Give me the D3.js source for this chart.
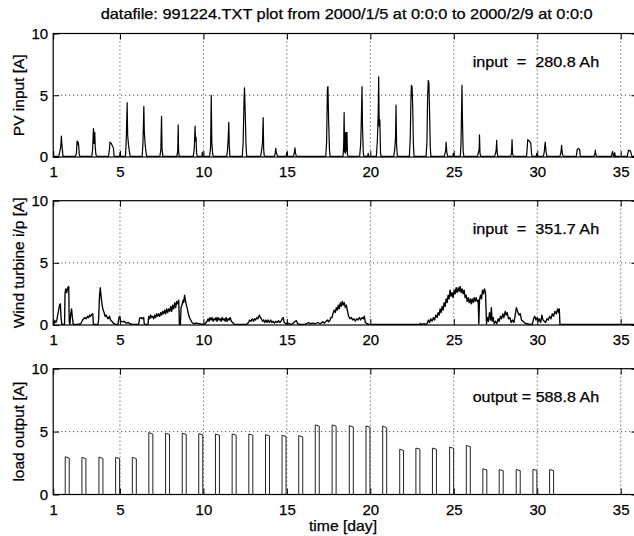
<!DOCTYPE html>
<html>
<head>
<meta charset="utf-8">
<script src="https://cdn.jsdelivr.net/npm/d3@7"></script>
<style>
  body { margin: 0; background: #fff; }
  svg { display: block; font-family: "Liberation Sans", Arial, Helvetica, sans-serif; }
  svg text { stroke: #000; stroke-width: 0.25px; }
  .note { white-space: pre; }
</style>
</head>
<body>
<div id="chart"></div>
<script>
"use strict";

// ticks shared by all three panels
var dayTicks = [1, 5, 10, 15, 20, 25, 30, 35];
var ampTicks = [0, 5, 10];

var titleText = "datafile: 991224.TXT plot from 2000/1/5 at 0:0:0 to 2000/2/9 at 0:0:0";
var xLabelText = "time [day]";
var panelLabels = ["PV input [A]", "Wind turbine i/p [A]", "load output [A]"];
var panelNotes = ["input  =  280.8 Ah", "input  =  351.7 Ah", "output = 588.8 Ah"];

// PV current [day, A]
var pvSeries = [
  [1.00,0.05],[1.33,0.05],[1.39,0.4],[1.45,0.8],[1.49,1.7],[1.52,1.0],[1.55,0.6],[1.59,0.05],
  [2.33,0.05],[2.39,0.3],[2.43,1.3],[2.47,1.0],[2.50,1.2],[2.53,0.9],[2.56,0.2],[2.61,0.05],
  [3.31,0.05],[3.36,0.6],[3.41,2.3],[3.45,1.1],[3.49,2.0],[3.52,0.8],[3.55,0.3],[3.59,0.05],
  [4.31,0.05],[4.36,0.5],[4.40,1.2],[4.48,1.1],[4.55,0.9],[4.61,0.7],[4.65,0.05],
  [4.98,0.05],[5.01,0.4],[5.04,0.05],
  [5.33,0.05],[5.38,1.5],[5.43,4.4],[5.46,1.8],[5.51,1.0],[5.56,0.5],[5.61,0.05],
  [6.33,0.05],[6.38,1.2],[6.43,4.1],[6.46,2.0],[6.51,1.0],[6.58,0.2],[6.61,0.05],
  [7.39,0.05],[7.45,0.6],[7.49,3.3],[7.52,0.7],[7.57,0.05],
  [8.41,0.05],[8.46,0.5],[8.49,2.6],[8.51,0.5],[8.55,0.05],
  [9.39,0.05],[9.45,0.6],[9.50,2.5],[9.53,1.3],[9.56,1.6],[9.59,0.3],[9.63,0.05],
  [9.91,0.05],[9.94,0.4],[9.97,0.05],
  [10.37,0.05],[10.43,0.8],[10.47,5.0],[10.50,1.2],[10.55,0.3],[10.59,0.05],
  [11.39,0.05],[11.44,0.5],[11.48,1.4],[11.52,2.8],[11.55,0.8],[11.59,0.05],
  [12.33,0.05],[12.38,1.2],[12.43,4.5],[12.46,5.6],[12.50,3.8],[12.55,1.0],[12.59,0.05],
  [13.43,0.05],[13.49,0.6],[13.54,1.2],[13.58,3.2],[13.61,0.6],[13.65,0.05],
  [14.25,0.05],[14.30,0.3],[14.33,0.7],[14.38,0.3],[14.45,0.05],
  [14.96,0.05],[14.99,0.35],[15.02,0.05],
  [15.39,0.05],[15.45,0.4],[15.48,0.75],[15.52,0.3],[15.57,0.05],
  [17.33,0.05],[17.38,1.2],[17.43,5.6],[17.46,5.7],[17.50,3.0],[17.55,0.6],[17.59,0.05],
  [18.36,0.05],[18.40,0.8],[18.43,3.6],[18.46,0.4],[18.48,2.0],[18.51,0.3],[18.54,2.0],[18.57,0.5],[18.60,2.0],[18.63,0.2],[18.67,0.05],
  [19.36,0.05],[19.42,1.0],[19.46,3.0],[19.50,5.7],[19.53,2.5],[19.58,0.3],[19.62,0.05],
  [19.84,0.05],[19.87,0.3],[19.90,0.05],
  [20.36,0.05],[20.42,1.3],[20.47,3.5],[20.50,6.5],[20.53,2.5],[20.57,3.0],[20.61,0.4],[20.64,0.05],
  [21.40,0.05],[21.46,0.6],[21.51,1.6],[21.54,4.2],[21.57,1.0],[21.62,0.05],
  [22.34,0.05],[22.39,1.5],[22.43,4.5],[22.46,5.8],[22.50,5.7],[22.54,4.0],[22.58,1.0],[22.62,0.05],
  [23.34,0.05],[23.39,1.2],[23.43,4.8],[23.47,6.2],[23.51,6.0],[23.55,3.5],[23.59,0.8],[23.63,0.05],
  [24.42,0.05],[24.48,0.3],[24.52,0.6],[24.54,1.2],[24.58,0.4],[24.64,0.05],
  [24.94,0.05],[24.97,0.3],[25.00,0.05],
  [25.39,0.05],[25.43,1.0],[25.47,4.0],[25.49,5.8],[25.52,3.0],[25.56,0.5],[25.60,0.05],
  [26.42,0.05],[26.48,0.4],[26.52,0.6],[26.54,1.8],[26.57,0.3],[26.62,0.05],
  [27.44,0.05],[27.50,0.3],[27.54,0.6],[27.57,1.35],[27.60,0.3],[27.64,0.05],
  [28.40,0.05],[28.46,0.3],[28.49,1.4],[28.52,0.3],[28.57,0.05],
  [29.36,0.05],[29.40,0.8],[29.43,1.4],[29.51,1.3],[29.61,1.15],[29.66,0.2],[29.70,0.05],
  [29.94,0.05],[29.97,0.3],[30.00,0.05],
  [30.36,0.05],[30.42,0.4],[30.46,1.0],[30.48,1.2],[30.52,0.5],[30.58,0.05],
  [31.36,0.05],[31.42,0.4],[31.46,0.95],[31.50,0.3],[31.56,0.05],
  [32.34,0.05],[32.39,0.6],[32.46,0.7],[32.54,0.6],[32.58,0.05],
  [33.40,0.05],[33.46,0.3],[33.48,0.55],[33.51,0.2],[33.56,0.05],
  [34.44,0.05],[34.48,0.3],[34.52,0.45],[34.56,0.1],[34.61,0.05],[34.64,0.35],[34.68,0.05],
  [35.39,0.05],[35.44,0.4],[35.48,0.55],[35.58,0.5],[35.64,0.2],[35.68,0.05],[36.00,0.05]
];

// wind turbine current [day, A]
var windSeries = [
  [1.00,0.3],[1.05,0.1],[1.10,0.35],[1.16,0.2],[1.22,0.4],[1.28,0.9],[1.34,1.3],[1.38,1.6],[1.43,1.7],[1.47,0.6],[1.52,0.05],
  [1.68,0.05],[1.71,2.6],[1.76,2.9],[1.81,2.6],[1.87,3.0],[1.93,3.1],[1.96,0.3],[2.00,0.05],[2.05,0.9],[2.10,1.3],[2.15,0.6],[2.20,0.05],
  [2.45,0.05],[2.65,0.1],[2.76,0.4],[2.83,0.5],[2.90,0.6],[2.97,0.5],[3.06,0.7],[3.12,0.6],[3.18,0.8],[3.24,0.7],[3.30,0.85],[3.37,0.9],[3.41,0.05],
  [3.68,0.05],[3.72,0.4],[3.77,2.2],[3.82,3.0],[3.87,2.3],[3.93,1.6],[3.99,1.2],[4.05,1.0],[4.11,0.7],[4.17,0.8],[4.24,0.6],[4.30,0.5],[4.37,0.7],[4.44,0.4],[4.51,0.3],[4.60,0.15],[4.72,0.05],
  [4.88,0.05],[4.94,0.6],[4.99,0.7],[5.05,0.3],[5.15,0.25],[5.25,0.3],[5.35,0.15],[5.50,0.2],[5.60,0.1],[5.75,0.05],
  [6.12,0.05],[6.18,0.55],[6.26,0.6],[6.34,0.5],[6.42,0.6],[6.46,0.05],
  [6.68,0.05],[6.72,0.7],[6.78,0.5],[6.84,0.8],[6.90,0.6],[6.96,0.7],[7.02,0.5],[7.08,0.8],[7.14,0.6],[7.20,0.9],[7.26,0.7],[7.32,0.9],[7.38,0.7],
  [7.44,1.0],[7.50,0.8],[7.56,1.1],[7.62,0.9],[7.68,1.2],[7.74,0.9],[7.80,1.3],[7.86,1.0],[7.92,1.3],[7.98,1.1],[8.04,1.5],[8.10,1.1],[8.16,1.6],
  [8.22,1.3],[8.28,1.8],[8.34,1.4],[8.40,1.9],[8.46,1.7],[8.52,2.0],[8.56,0.05],[8.62,0.05],[8.66,1.4],[8.72,1.6],[8.78,2.0],[8.82,1.8],[8.87,2.4],
  [8.92,2.0],[8.98,1.6],[9.04,1.3],[9.10,0.9],[9.16,0.6],[9.24,0.4],[9.32,0.2],[9.42,0.1],[9.55,0.15],[9.75,0.1],[9.95,0.05],
  [10.10,0.1],[10.22,0.3],[10.28,0.5],[10.34,0.3],[10.40,0.6],[10.46,0.4],[10.52,0.6],[10.58,0.3],[10.64,0.5],[10.70,0.4],[10.76,0.6],[10.82,0.3],
  [10.88,0.6],[10.94,0.4],[11.00,0.5],[11.06,0.3],[11.12,0.6],[11.18,0.4],[11.24,0.5],[11.30,0.3],[11.36,0.6],[11.42,0.3],[11.48,0.5],[11.54,0.4],
  [11.60,0.6],[11.67,0.3],[11.75,0.2],[11.85,0.05],[12.60,0.05],
  [12.70,0.2],[12.77,0.4],[12.85,0.3],[12.93,0.5],[13.00,0.3],[13.07,0.5],[13.13,0.4],[13.20,0.6],[13.27,0.5],[13.35,0.8],[13.41,0.6],[13.47,0.5],
  [13.55,0.3],[13.61,0.4],[13.67,0.2],[13.75,0.4],[13.81,0.2],[13.87,0.4],[13.95,0.2],[14.03,0.4],[14.10,0.2],[14.17,0.3],[14.25,0.15],[14.33,0.3],
  [14.41,0.2],[14.50,0.35],[14.57,0.2],[14.65,0.3],[14.72,0.5],[14.78,0.6],[14.84,0.2],[14.94,0.1],[15.04,0.15],[15.14,0.1],[15.24,0.05],[15.34,0.1],
  [15.50,0.3],[15.57,0.35],[15.65,0.1],[15.80,0.05],[16.05,0.05],[16.20,0.1],[16.30,0.2],[16.40,0.1],[16.55,0.15],[16.70,0.1],[16.85,0.2],[17.00,0.1],
  [17.15,0.25],[17.25,0.15],[17.35,0.3],[17.44,0.4],[17.50,0.25],[17.58,0.4],[17.64,0.6],
  [17.70,0.6],[17.76,0.9],[17.84,1.2],[17.90,1.0],[17.96,1.4],[18.02,1.2],[18.08,1.6],[18.14,1.3],[18.20,1.8],[18.26,1.5],[18.32,1.9],[18.38,1.6],
  [18.44,1.8],[18.50,1.4],[18.56,1.6],[18.62,1.2],[18.70,0.7],[18.78,0.5],[18.86,0.6],[18.94,0.4],[19.02,0.5],[19.10,0.3],[19.18,0.5],[19.26,0.4],
  [19.34,0.6],[19.42,0.4],[19.50,0.6],[19.58,0.5],[19.64,0.7],[19.70,0.2],[19.80,0.1],[19.95,0.05],
  [21.00,0.05],[22.95,0.05],[23.00,0.12],[23.06,0.05],[23.25,0.1],[23.32,0.05],[23.40,0.1],
  [23.48,0.4],[23.55,0.2],[23.62,0.5],[23.70,0.3],[23.78,0.6],[23.85,0.4],[23.92,0.8],[24.00,0.6],[24.06,1.0],[24.12,0.8],[24.18,1.3],[24.24,1.0],
  [24.30,1.5],[24.36,1.2],[24.42,1.8],[24.48,1.5],[24.54,2.1],[24.60,1.8],[24.66,2.4],[24.72,2.1],[24.78,2.8],[24.84,2.3],[24.90,2.6],[24.96,2.2],
  [25.02,2.8],[25.08,2.5],[25.14,3.0],[25.20,2.6],[25.26,3.0],[25.32,2.7],[25.38,3.1],[25.44,2.6],[25.50,2.9],[25.56,2.5],[25.62,2.8],[25.68,2.2],
  [25.74,2.4],[25.80,1.9],[25.86,2.2],[25.92,1.8],[25.98,2.1],[26.04,1.7],[26.10,2.1],[26.16,1.8],[26.22,2.2],[26.28,1.9],[26.34,2.2],[26.40,1.9],
  [26.46,2.0],[26.50,0.1],[26.54,2.0],[26.60,2.4],[26.66,2.1],[26.72,2.8],[26.78,2.5],[26.84,2.9],[26.90,2.6],[26.96,0.1],[27.02,0.6],[27.08,0.3],
  [27.14,1.0],[27.20,0.4],[27.25,1.4],[27.30,0.3],[27.36,0.6],[27.42,0.1],[27.50,0.3],[27.58,0.1],[27.66,0.5],[27.72,0.3],[27.80,0.7],[27.86,0.5],
  [27.94,0.9],[28.00,0.6],[28.08,1.1],[28.14,0.8],[28.20,1.0],[28.28,0.5],[28.36,0.6],[28.44,0.2],[28.52,0.4],[28.60,0.2],[28.68,0.8],[28.75,1.4],
  [28.82,1.1],[28.90,0.8],[28.98,0.9],[29.06,0.4],[29.15,0.3],[29.25,0.15],[29.40,0.1],[29.55,0.05],[29.70,0.05],[29.78,0.5],[29.85,0.7],[29.92,0.4],
  [30.00,0.6],[30.06,0.3],[30.12,0.5],[30.20,0.2],[30.28,0.8],[30.34,0.4],[30.42,0.3],[30.50,0.2],[30.58,0.5],[30.66,0.4],[30.74,0.7],[30.82,0.5],
  [30.90,0.9],[30.98,0.7],[31.06,1.1],[31.14,0.9],[31.22,1.3],[31.28,1.0],[31.32,1.3],[31.36,0.05],[36.00,0.05]
];

// load pulses: switch-on day, switch-off day, current at start and end of pulse [A]
var loadOn  = [1.72,2.72,3.74,4.74,5.74,6.73,7.73,8.73,9.72,10.72,11.72,12.72,13.72,14.71,15.71,
               16.70,17.71,18.74,19.74,20.74,21.76,22.73,23.72,24.75,25.75,26.74,27.72,28.74,29.74,30.74];
var loadOff = [1.96,2.96,3.98,4.98,5.98,6.97,7.97,8.97,9.96,10.96,11.96,12.96,13.96,14.95,15.95,
               16.94,17.95,18.98,19.98,20.98,21.99,22.97,23.96,24.99,25.99,26.98,27.96,28.98,29.98,30.98];
var loadStartA = [3.0,2.95,2.97,2.95,2.95,4.92,4.87,4.87,4.84,4.81,4.81,4.81,4.76,4.71,4.68,
                  5.53,5.53,5.47,5.45,5.45,3.6,3.69,3.69,3.77,3.9,2.05,1.98,1.98,2.0,1.98];
var loadEndA   = [2.9,2.85,2.87,2.85,2.85,4.8,4.77,4.77,4.74,4.71,4.71,4.71,4.66,4.61,4.58,
                  5.43,5.43,5.37,5.35,5.3,3.5,3.6,3.6,3.67,3.8,1.95,1.9,1.9,1.9,1.9];

// build the load trace from the pulse arrays
var loadSeries = [[1.0, 0]];
loadOn.forEach(function(d, i) {
  loadSeries.push([d, 0], [d, loadStartA[i]], [loadOff[i], loadEndA[i]], [loadOff[i], 0]);
});
loadSeries.push([36.0, 0]);

var seriesList = [pvSeries, windSeries, loadSeries];
var strokeWidths = [1.2, 1.35, 1];

var width = 634, height = 536;
var panels = [
  {top: 33.5, bottom: 157},
  {top: 200.7, bottom: 325},
  {top: 368.7, bottom: 494.5}
];
var fontFamily = '"Liberation Sans", Arial, Helvetica, sans-serif';

var svg = d3.select("#chart").append("svg")
    .attr("width", width)
    .attr("height", height);

var x = d3.scaleLinear().domain([1, 36]).range([53.2, 637.4]);

svg.append("text")
    .attr("x", 100.7)
    .attr("y", 19)
    .attr("font-size", 14.5)
    .attr("textLength", 492)
    .attr("lengthAdjust", "spacingAndGlyphs")
    .text(titleText);

panels.forEach(function(p, i) {
  var y = d3.scaleLinear().domain([0, 10]).range([p.bottom, p.top]);
  var g = svg.append("g");
  var clipId = "clip" + i;

  svg.append("clipPath").attr("id", clipId)
    .append("rect")
      .attr("x", x(1)).attr("y", p.top)
      .attr("width", x(36) - x(1)).attr("height", p.bottom - p.top);

  // dotted grid
  g.selectAll(".vgrid")
      .data(dayTicks.slice(1))
    .enter().append("line")
      .attr("x1", function(d) { return x(d); })
      .attr("x2", function(d) { return x(d); })
      .attr("y1", p.top).attr("y2", p.bottom)
      .attr("stroke", "#000").attr("stroke-width", 0.8)
      .attr("stroke-dasharray", "1,3");
  g.selectAll(".hgrid")
      .data([5])
    .enter().append("line")
      .attr("x1", x(1)).attr("x2", x(36))
      .attr("y1", function(d) { return y(d); })
      .attr("y2", function(d) { return y(d); })
      .attr("stroke", "#000").attr("stroke-width", 0.8)
      .attr("stroke-dasharray", "1,3");

  // data trace
  var line = d3.line()
      .x(function(d) { return x(d[0]); })
      .y(function(d) { return y(d[1]); });
  g.append("path")
      .datum(seriesList[i])
      .attr("clip-path", "url(#" + clipId + ")")
      .attr("fill", "none")
      .attr("stroke", i == 2 ? "#222" : "#000")
      .attr("stroke-width", strokeWidths[i])
      .attr("stroke-linejoin", "round")
      .attr("d", line);

  // axes, ticks pointing inward like matlab
  var xAxis = g.append("g")
      .attr("transform", "translate(0," + p.bottom + ")")
      .call(d3.axisBottom(x).tickValues(dayTicks).tickSize(-6).tickSizeOuter(0).tickPadding(9.6));
  var yAxis = g.append("g")
      .attr("transform", "translate(" + x(1) + ",0)")
      .call(d3.axisLeft(y).tickValues(ampTicks).tickSize(-6).tickSizeOuter(0).tickPadding(5));
  g.append("g")
      .attr("transform", "translate(0," + p.top + ")")
      .call(d3.axisTop(x).tickValues(dayTicks).tickSize(-6).tickSizeOuter(0).tickFormat(""));
  g.append("g")
      .attr("transform", "translate(" + x(36) + ",0)")
      .call(d3.axisRight(y).tickValues(ampTicks).tickSize(-6).tickSizeOuter(0).tickFormat(""));
  g.selectAll(".domain").remove();
  [xAxis, yAxis].forEach(function(a) {
    a.attr("font-size", 15).attr("font-family", fontFamily);
    a.selectAll("text").attr("fill", "#000");
  });

  // frame
  g.append("rect")
      .attr("x", x(1)).attr("y", p.top)
      .attr("width", x(36) - x(1)).attr("height", p.bottom - p.top)
      .attr("fill", "none").attr("stroke", "#000").attr("stroke-width", 1.2);

  // y label
  g.append("text")
      .attr("transform", "rotate(-90)")
      .attr("x", -(p.top + p.bottom) / 2)
      .attr("y", 24)
      .attr("text-anchor", "middle")
      .attr("font-size", 15.5)
      .text(panelLabels[i]);

  // amp-hour note
  g.append("text")
      .attr("class", "note")
      .attr("x", x(26.13))
      .attr("y", p.top + 33.2)
      .attr("font-size", 14.5)
      .attr("textLength", 126.5)
      .attr("lengthAdjust", "spacingAndGlyphs")
      .text(panelNotes[i]);
});

svg.append("text")
    .attr("x", 309)
    .attr("y", 531)
    .attr("font-size", 14.5)
    .attr("textLength", 68)
    .attr("lengthAdjust", "spacingAndGlyphs")
    .text(xLabelText);
</script>
</body>
</html>
